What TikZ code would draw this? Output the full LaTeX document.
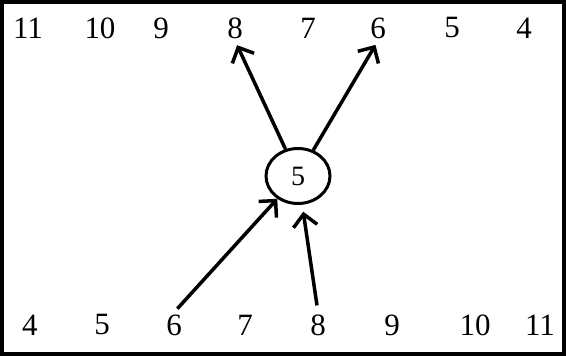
\documentclass[tikz,border=0pt]{standalone}
\usepackage{fontspec}
\setmainfont{Liberation Serif}
\usetikzlibrary{arrows.meta,shapes.geometric}
\tikzset{
  num/.style={
    inner sep=2pt,
    font=\fontsize{31}{33}\selectfont
  },
  centro/.style={
    ellipse,
    draw,
    line width=3pt,
    minimum width=64pt,
    minimum height=55pt,
    inner sep=0pt,
    font=\fontsize{28}{30}\selectfont
  },
  arrow/.style={
    -{Straight Barb[length=12pt,width=24pt]},
    line width=3.5pt
  }
}
\begin{document}
\begin{tikzpicture}[x=1pt,y=-1pt]
\useasboundingbox (0,0) rectangle (566,356);
\draw[line width=3.6pt] (1.8,1.8) rectangle (564.2,354.2);
% upper row
\foreach \n/\x in {11/28,10/100,9/161,8/235,7/308,6/378,5/452,4/524}
  \node[num] (t\n) at (\x,28) {\n};
% lower row
\foreach \n/\x in {4/30,5/102,6/174,7/245,8/318,9/392,10/475,11/540}
  \node[num] (b\n) at (\x,325) {\n};
\node[centro] (c) at (298,176) {5};
\draw[arrow,shorten >=5pt] (c) -- (t8.south);
\draw[arrow,shorten >=5pt] (c) -- (t6.south);
\draw[arrow,shorten <=5pt] (b6.north) -- (c);
\draw[arrow,shorten <=7pt,shorten >=7pt] (b8.north) -- (c);
\end{tikzpicture}
\end{document}
